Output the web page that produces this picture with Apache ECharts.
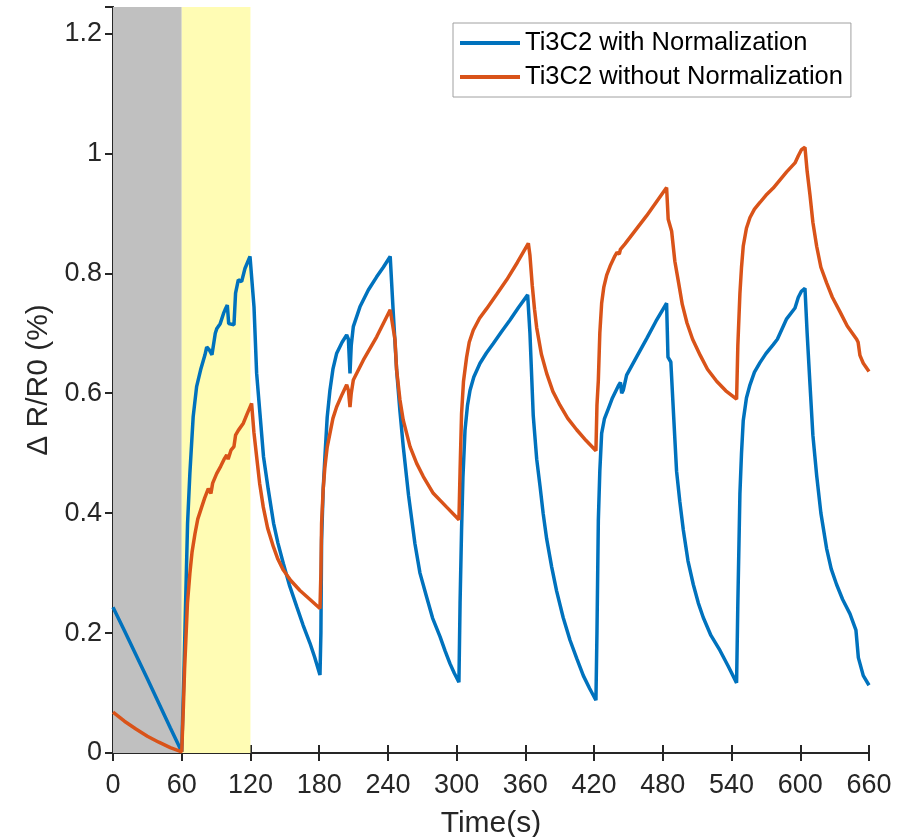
<!DOCTYPE html>
<html>
<head>
<meta charset="utf-8">
<script src="https://cdn.jsdelivr.net/npm/echarts@6/dist/echarts.min.js"></script>
<style>
html, body { margin: 0; padding: 0; background: #fff; }
#chart { width: 902px; height: 837px; }
</style>
</head>
<body>
<div id="chart"></div>
<script>
// x ticks and shaded windows
var xTicks = [0, 60, 120, 180, 240, 300, 360, 420, 480, 540, 600, 660];
var grayWindow = [0, 60];
var yellowWindow = [60, 120];
var seriesNames = ['Ti3C2 with Normalization', 'Ti3C2 without Normalization'];

// blue curve (with normalization)
var blueTime = [0, 10, 20, 30, 40, 50, 60,
  60.7, 61.9, 63.3, 65.1, 67.1, 70, 73, 76.5, 80.3, 81.8, 84.1, 86.4, 89.3, 90.7, 93.6, 96.5, 97.8, 99.8, 101, 105.6, 107, 109.4, 112.3, 115.2, 119.6, 121,
  123.1, 125.4, 128.3, 131.4, 135.5, 140.2, 144, 148.7, 154, 160.4, 166, 172, 176, 180.7,
  181.5, 182.1, 183.5, 185, 187, 189.4, 192, 195.2, 200, 204, 205.5, 206.9, 208, 209.8, 215.6, 222.9, 230.2, 236, 242,
  244.7, 247.6, 250.5, 253.4, 258, 263.6, 268, 273.8, 279, 285.5, 290, 294.2, 298, 302,
  303, 304.3, 305.5, 307.3, 309.5, 311.7, 315, 320.4, 326, 332, 339, 346.6, 354, 362,
  364, 366.9, 369.9, 372.8, 375.5, 378.6, 383, 387.3, 393, 399, 405, 410.6, 416, 421.6,
  422.5, 423.7, 425, 426.6, 429, 432.4, 436, 441.1, 443, 444.1, 445.5, 448.4, 457, 465.9, 474, 483.3,
  484.5, 487, 489.5, 492, 494.8, 497.9, 502, 506.6, 511, 515.3, 522, 529.9, 537, 544.4,
  545.5, 547.3, 548.7, 550.2, 553, 556.1, 560, 564.8, 570, 576.4, 580, 588.1, 595.4, 596.5, 598.3, 601, 604.1,
  606, 608.5, 611, 614.3, 618, 623, 627, 631.7, 637, 643.4, 648.6, 650.7, 655, 660];
var blueValue = [0.243, 0.204, 0.164, 0.124, 0.083, 0.042, 0.002,
  0.0, 0.132, 0.244, 0.383, 0.466, 0.561, 0.611, 0.639, 0.664, 0.677, 0.672, 0.664, 0.700, 0.708, 0.716, 0.733, 0.739, 0.747, 0.716, 0.714, 0.767, 0.789, 0.786, 0.808, 0.828, 0.830,
  0.744, 0.633, 0.566, 0.494, 0.440, 0.383, 0.350, 0.316, 0.280, 0.244, 0.213, 0.183, 0.160, 0.130,
  0.200, 0.355, 0.440, 0.494, 0.560, 0.605, 0.640, 0.666, 0.685, 0.697, 0.690, 0.633, 0.680, 0.711, 0.744, 0.772, 0.794, 0.810, 0.828,
  0.733, 0.639, 0.570, 0.511, 0.430, 0.349, 0.300, 0.260, 0.225, 0.194, 0.170, 0.149, 0.133, 0.118,
  0.250, 0.372, 0.460, 0.538, 0.580, 0.605, 0.627, 0.650, 0.667, 0.683, 0.702, 0.722, 0.743, 0.764,
  0.700, 0.562, 0.490, 0.445, 0.400, 0.357, 0.310, 0.270, 0.226, 0.188, 0.157, 0.129, 0.108, 0.088,
  0.200, 0.387, 0.470, 0.533, 0.557, 0.574, 0.592, 0.612, 0.618, 0.600, 0.605, 0.630, 0.660, 0.691, 0.720, 0.750,
  0.660, 0.652, 0.560, 0.470, 0.420, 0.372, 0.320, 0.281, 0.250, 0.226, 0.196, 0.171, 0.145, 0.117,
  0.250, 0.432, 0.500, 0.554, 0.592, 0.614, 0.635, 0.651, 0.666, 0.681, 0.690, 0.724, 0.742, 0.742, 0.760, 0.770, 0.775,
  0.700, 0.614, 0.530, 0.463, 0.400, 0.341, 0.307, 0.281, 0.256, 0.232, 0.205, 0.159, 0.129, 0.113];

// orange curve (without normalization)
var orangeTime = [0, 10, 20, 30, 40, 50, 60,
  60.7, 61.5, 62.5, 63.6, 65, 67.1, 69, 71.6, 74, 77.4, 80, 83.2, 84.5, 85.5, 87, 90.5, 94, 97, 99.3, 100.5, 101.6, 103, 105.6, 107, 109.4, 113.8, 117, 121,
  123, 125.4, 128, 131.2, 135, 140, 144, 148.7, 155, 163.2, 172, 180.7,
  181.5, 182.1, 183.5, 185, 187, 189.4, 192, 195.2, 200, 204, 205.5, 206.9, 208, 209.8, 218.5, 230.2, 242,
  243.3, 246.2, 247.6, 250.5, 253.4, 259.3, 265.1, 270.9, 279.6, 291.3, 302,
  303, 304.3, 306, 308.7, 311, 314.5, 320, 326.2, 335, 343.7, 353, 362.6,
  364, 366, 368, 369.9, 374, 378.6, 384, 390.2, 397, 404.8, 413, 421.6,
  422.5, 423.7, 425, 426.6, 428.5, 431, 434, 438.2, 440, 442, 443, 447, 465.9, 483.3,
  484.7, 487.7, 490.5, 493.8, 497, 501.1, 506, 512.7, 519, 527, 535, 544.4,
  545.5, 547.3, 548.7, 550.2, 553, 556.1, 560, 564.8, 570, 576.4, 588.1, 595.4, 597, 598.3, 601, 604.1,
  606, 608.5, 611, 614.3, 618, 623, 628, 634.6, 641, 649.2, 650.5, 652.1, 655, 660];
var orangeValue = [0.068, 0.053, 0.040, 0.028, 0.018, 0.009, 0.002,
  0.0, 0.080, 0.140, 0.188, 0.250, 0.299, 0.335, 0.366, 0.390, 0.410, 0.425, 0.441, 0.438, 0.433, 0.450, 0.466, 0.478, 0.490, 0.497, 0.490, 0.488, 0.505, 0.511, 0.530, 0.538, 0.550, 0.565, 0.583,
  0.535, 0.494, 0.450, 0.410, 0.375, 0.344, 0.323, 0.305, 0.288, 0.271, 0.256, 0.241,
  0.300, 0.383, 0.440, 0.477, 0.510, 0.533, 0.558, 0.577, 0.598, 0.614, 0.605, 0.577, 0.600, 0.622, 0.655, 0.694, 0.739,
  0.739, 0.689, 0.639, 0.589, 0.555, 0.511, 0.483, 0.461, 0.433, 0.410, 0.389,
  0.470, 0.566, 0.620, 0.660, 0.685, 0.705, 0.725, 0.741, 0.765, 0.789, 0.818, 0.850,
  0.830, 0.780, 0.740, 0.709, 0.665, 0.633, 0.603, 0.580, 0.558, 0.539, 0.521, 0.504,
  0.580, 0.621, 0.700, 0.750, 0.777, 0.797, 0.812, 0.829, 0.835, 0.832, 0.840, 0.849, 0.896, 0.943,
  0.890, 0.870, 0.820, 0.784, 0.748, 0.717, 0.690, 0.663, 0.640, 0.620, 0.604, 0.590,
  0.680, 0.766, 0.810, 0.845, 0.875, 0.893, 0.907, 0.918, 0.930, 0.942, 0.969, 0.984, 0.985, 0.996, 1.006, 1.010,
  0.970, 0.930, 0.885, 0.845, 0.810, 0.784, 0.760, 0.736, 0.712, 0.690, 0.685, 0.663, 0.650, 0.636];

function zip(ts, vs) {
  return ts.map(function (t, i) { return [t, vs[i]]; });
}

var fontName = 'Liberation Sans';
var axisColor = '#262626';

var chart = echarts.init(document.getElementById('chart'));

var option = {
  backgroundColor: '#ffffff',
  animation: false,
  grid: { left: 113, right: 33, top: 7, bottom: 84, containLabel: false, outerBoundsMode: 'none' },
  legend: {
    orient: 'vertical',
    left: 453,
    top: 23,
    padding: [5, 8, 5, 7],
    itemGap: 4,
    itemWidth: 60,
    itemHeight: 4,
    icon: 'rect',
    backgroundColor: '#ffffff',
    borderColor: '#a0a0a0',
    borderWidth: 1,
    borderRadius: 0,
    data: seriesNames,
    textStyle: { fontFamily: fontName, fontSize: 25.5, color: '#000', lineHeight: 30 }
  },
  xAxis: [{
    type: 'value',
    min: xTicks[0],
    max: xTicks[xTicks.length - 1],
    interval: 60,
    name: 'Time(s)',
    nameLocation: 'middle',
    nameGap: 56,
    nameTextStyle: { fontFamily: fontName, fontSize: 30, color: axisColor },
    axisLine: { show: true, lineStyle: { color: axisColor, width: 2 } },
    axisTick: { show: true, inside: true, length: 8, lineStyle: { color: axisColor, width: 2 } },
    axisLabel: { fontFamily: fontName, fontSize: 27, color: axisColor, margin: 19 },
    splitLine: { show: false }
  }, {
    type: 'value',
    position: 'top',
    min: xTicks[0],
    max: xTicks[xTicks.length - 1],
    interval: 60,
    axisLine: { show: true, lineStyle: { color: axisColor, width: 2 } },
    axisTick: { show: true, inside: true, length: 8, lineStyle: { color: axisColor, width: 2 } },
    axisLabel: { show: false },
    splitLine: { show: false }
  }],
  yAxis: [{
    type: 'value',
    min: 0,
    max: 1.244,
    interval: 0.2,
    name: 'Δ R/R0 (%)',
    nameLocation: 'middle',
    nameGap: 56,
    nameTextStyle: { fontFamily: fontName, fontSize: 30, color: axisColor },
    axisLine: { show: true, lineStyle: { color: axisColor, width: 2 } },
    axisTick: { show: true, inside: true, length: 8, lineStyle: { color: axisColor, width: 2 } },
    axisLabel: { fontFamily: fontName, fontSize: 27, color: axisColor, margin: 11, showMaxLabel: false },
    splitLine: { show: false }
  }, {
    type: 'value',
    position: 'right',
    min: 0,
    max: 1.244,
    interval: 0.2,
    axisLine: { show: true, lineStyle: { color: axisColor, width: 2 } },
    axisTick: { show: true, inside: true, length: 8, lineStyle: { color: axisColor, width: 2 } },
    axisLabel: { show: false },
    splitLine: { show: false }
  }],
  series: [{
    name: 'windows',
    type: 'line',
    data: [],
    z: 1,
    silent: true,
    markArea: {
      silent: true,
      data: [
        [{ xAxis: grayWindow[0], itemStyle: { color: '#c0c0c0' } }, { xAxis: grayWindow[1] }],
        [{ xAxis: yellowWindow[0], itemStyle: { color: '#fffcb4' } }, { xAxis: yellowWindow[1] }]
      ]
    }
  }, {
    name: seriesNames[0],
    type: 'line',
    data: zip(blueTime, blueValue),
    showSymbol: false,
    smooth: false,
    z: 3,
    itemStyle: { color: '#0072bd' },
    lineStyle: { color: '#0072bd', width: 3.5 }
  }, {
    name: seriesNames[1],
    type: 'line',
    data: zip(orangeTime, orangeValue),
    showSymbol: false,
    smooth: false,
    z: 4,
    itemStyle: { color: '#d95319' },
    lineStyle: { color: '#d95319', width: 3.5 }
  }]
};

chart.setOption(option);
</script>
</body>
</html>
